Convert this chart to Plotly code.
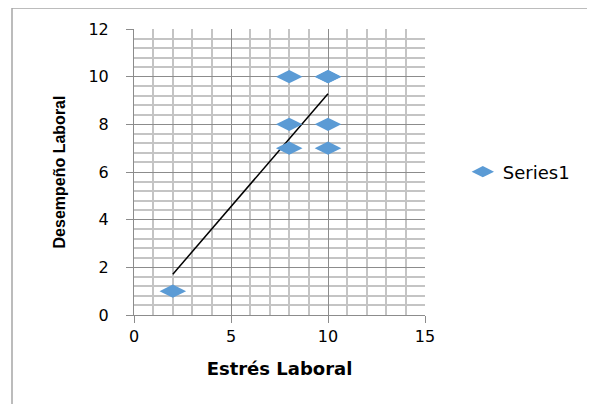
import numpy as np
import plotly.graph_objects as go

# Data
estres = [2, 8, 10, 8, 10, 8, 10, 10]
desempeno = [1, 10, 10, 8, 8, 7, 7, 10]
series_name = "Series1"
x_title = "Estrés Laboral"
y_title = "Desempeño Laboral"

# page has 8px body margin -> figure size reduced accordingly
W, H = 587, 396
L, R, T, B = 126, 170, 21, 89

slope, intercept = np.polyfit(estres, desempeno, 1)
tx = np.array([min(estres), max(estres)])
ty = slope * tx + intercept

fig = go.Figure()
fig.add_trace(go.Scatter(
    x=tx, y=ty, mode="lines", line=dict(color="black", width=1.5),
    showlegend=False, hoverinfo="skip"))
fig.add_trace(go.Scatter(
    x=estres, y=desempeno, mode="markers", name=series_name,
    marker=dict(symbol="diamond-wide", size=19, color="#5B9BD5")))

major = "#8c8c8c"
minor = "#c4c4c4"
tickfont = dict(family="DejaVu Sans, sans-serif", size=16, color="black")

fig.update_layout(
    width=W, height=H,
    margin=dict(l=L, r=R, t=T, b=B, pad=0),
    paper_bgcolor="white", plot_bgcolor="white",
    showlegend=True,
    legend=dict(x=1.13, y=0.5, xanchor="left", yanchor="middle",
                font=dict(family="DejaVu Sans, sans-serif", size=18, color="black"),
                itemwidth=30, bgcolor="rgba(0,0,0,0)"),
    xaxis=dict(range=[0, 15], dtick=5, tick0=0, showgrid=True, gridcolor=major, gridwidth=1,
               minor=dict(dtick=1, showgrid=True, gridcolor=minor, gridwidth=1.5),
               showline=True, linecolor=major, linewidth=1,
               ticks="outside", ticklen=7, tickcolor=major, tickwidth=1,
               tickfont=tickfont, zeroline=False, mirror=False,
               title=dict(text="<b>" + x_title + "</b>", standoff=17,
                          font=dict(family="DejaVu Sans, sans-serif", size=18, color="black"))),
    yaxis=dict(range=[0, 12], dtick=2, tick0=0, showgrid=True, gridcolor=major, gridwidth=1,
               minor=dict(dtick=0.4, showgrid=True, gridcolor=minor, gridwidth=1.5),
               showline=True, linecolor=major, linewidth=1,
               ticks="outside", ticklen=7, tickcolor=major, tickwidth=1,
               tickfont=tickfont, zeroline=False, ticklabelstandoff=14,
               title=dict(text="<b>" + y_title + "</b>", standoff=18,
                          font=dict(family="Liberation Sans, Arial, sans-serif", size=16, color="black"))),
)

pw = W - L - R
ph = H - T - B
def px2x(p):
    return (p - L) / pw
def py2y(p):
    return (H - B - p) / ph
fig.add_shape(type="rect", xref="paper", yref="paper",
              x0=px2x(4), x1=px2x(W + 5), y0=py2y(H + 5), y1=py2y(0),
              line=dict(color="#a6a6a6", width=1.5), fillcolor="rgba(0,0,0,0)", layer="below")

fig.write_html("out.html")
